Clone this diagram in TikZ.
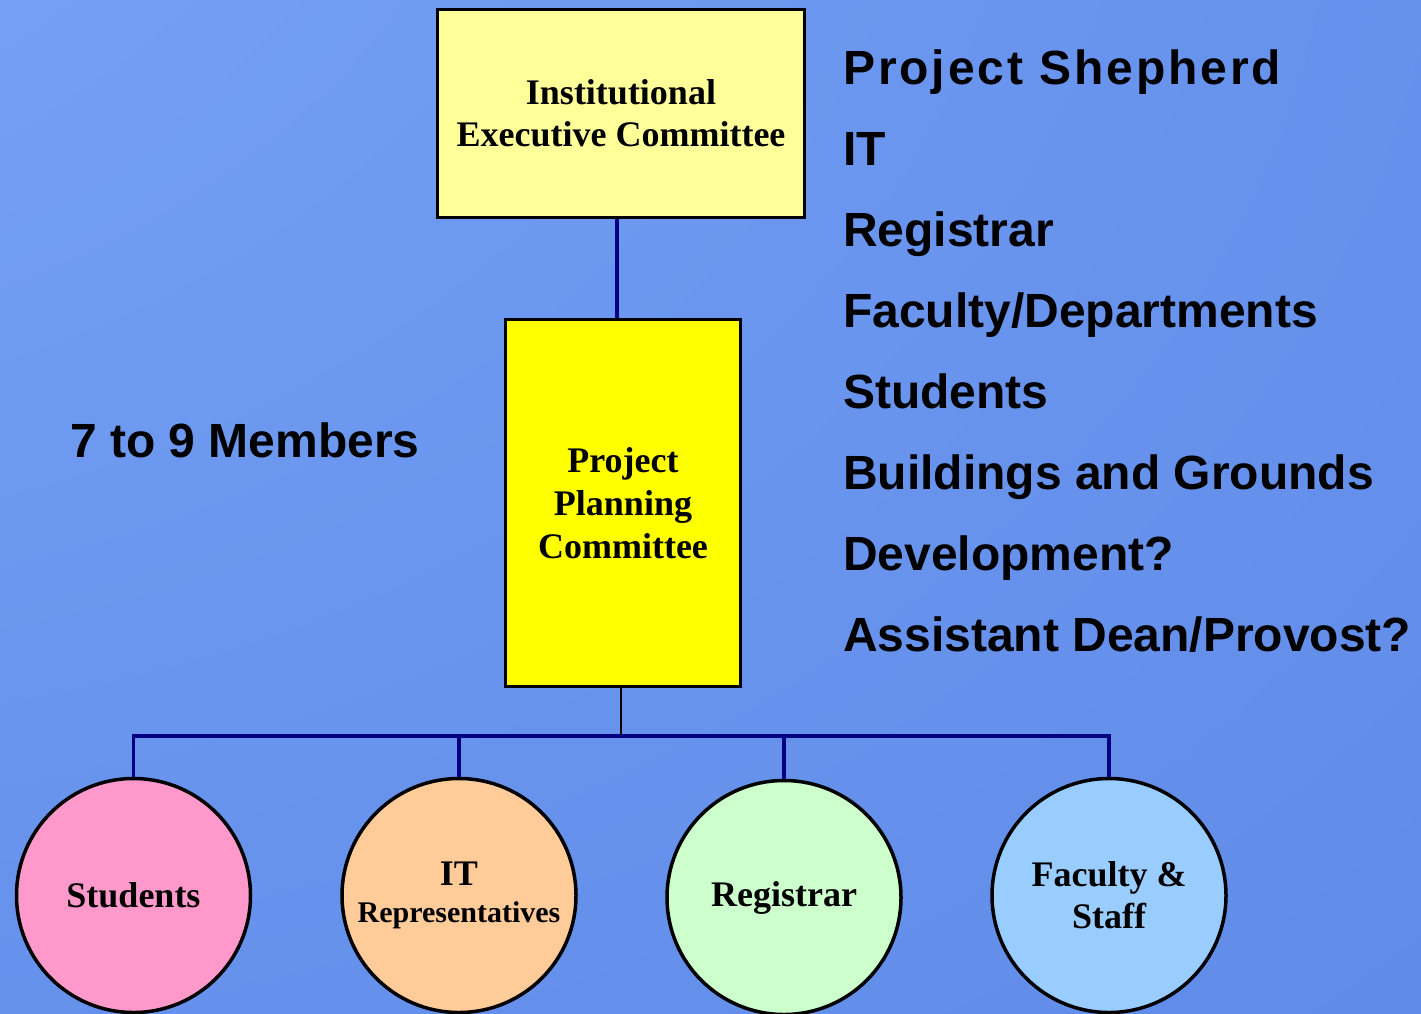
\documentclass[tikz,border=0pt]{standalone}
\usepackage{fontspec}
\setmainfont{Liberation Serif}
\newfontfamily\arialfont{Liberation Sans}
\newfontfamily\arialspaced[LetterSpace=6.0]{Liberation Sans}
\definecolor{bgA}{HTML}{82AAFB}
\definecolor{bgB}{HTML}{6A96EF}
\definecolor{bgC}{HTML}{5A86E5}
\definecolor{paleyellow}{HTML}{FFFF99}
\definecolor{brightyellow}{HTML}{FFFF00}
\definecolor{pinkfill}{HTML}{FF99CC}
\definecolor{peachfill}{HTML}{FFCC99}
\definecolor{mintfill}{HTML}{CCFFCC}
\definecolor{skyfill}{HTML}{99CCFF}
\definecolor{navyline}{HTML}{000080}
\pgfdeclareradialshading{bgshade}{\pgfpoint{-50bp}{50bp}}{color(0bp)=(bgA); color(45bp)=(bgB); color(90bp)=(bgC); color(160bp)=(bgC)}
\begin{document}
\begin{tikzpicture}[x=1pt,y=-1pt,
  box/.style={draw=black, line width=3.5pt, align=center, inner sep=0pt,
    font=\bfseries\fontsize{36}{42}\selectfont},
  circ/.style={circle, draw=black, line width=3.5pt, minimum size=234pt, inner sep=0pt,
    align=center, font=\bfseries\fontsize{36}{42}\selectfont},
  conn/.style={draw=navyline, line width=3.5pt},
  thinconn/.style={draw=black, line width=2pt},
  listitem/.style={anchor=base west, inner sep=0pt,
    font=\arialfont\bfseries\fontsize{48}{58}\selectfont}]
\useasboundingbox (0,0) rectangle (1421,1013);
\shade[shading=bgshade] (0,0) rectangle (1421,1013);

\node[box, fill=paleyellow, minimum width=367pt, minimum height=208pt] (top) at (621,113.5)
  {Institutional\\Executive Committee};
\node[box, fill=brightyellow, minimum width=235pt, minimum height=367pt,
  font=\bfseries\fontsize{36}{43}\selectfont] (mid) at (623,503)
  {Project\\Planning\\Committee};

\draw[conn] ([xshift=-4pt]top.south) -- ([xshift=-6pt]mid.north);

\begin{scope}
\clip (0,0) rectangle (1421,1013);
\node[circ, fill=pinkfill] (c1) at (133.5,895.5) {Students};
\node[circ, fill=peachfill] (c2) at (459,895.5) {IT\\[-5pt]{\fontsize{30}{36}\selectfont Representatives}};
\node[circ, fill=mintfill] (c3) at (784,897.5) {Registrar};
\node[circ, fill=skyfill] (c4) at (1109,895.5) {Faculty \&\\Staff};
\end{scope}

\coordinate (bar) at (621,736);
\draw[thinconn] ([xshift=-2pt]mid.south) -- ([xshift=-2pt]mid.south |- bar);
\draw[conn] (c1.north) -- (c1.north |- bar) -- (c4.north |- bar) -- (c4.north);
\draw[conn] (c2.north) -- (c2.north |- bar);
\draw[conn] (c3.north) -- (c3.north |- bar);

\node[anchor=base west, inner sep=0pt, font=\arialspaced\bfseries\fontsize{48}{58}\selectfont]
  (l1) at (843,84) {Project Shepherd};
\node[listitem] (l2) at (843,165) {IT};
\node[listitem] (l3) at (843,246) {Registrar};
\node[listitem] (l4) at (843,327) {Faculty/Departments};
\node[listitem] (l5) at (843,408) {Students};
\node[listitem] (l6) at (843,489) {Buildings and Grounds};
\node[listitem] (l7) at (843,570) {Development?};
\node[listitem] (l8) at (843,651) {Assistant Dean/Provost?};

\node[listitem] (members) at (70,457) {7 to 9 Members};
\end{tikzpicture}
\end{document}
